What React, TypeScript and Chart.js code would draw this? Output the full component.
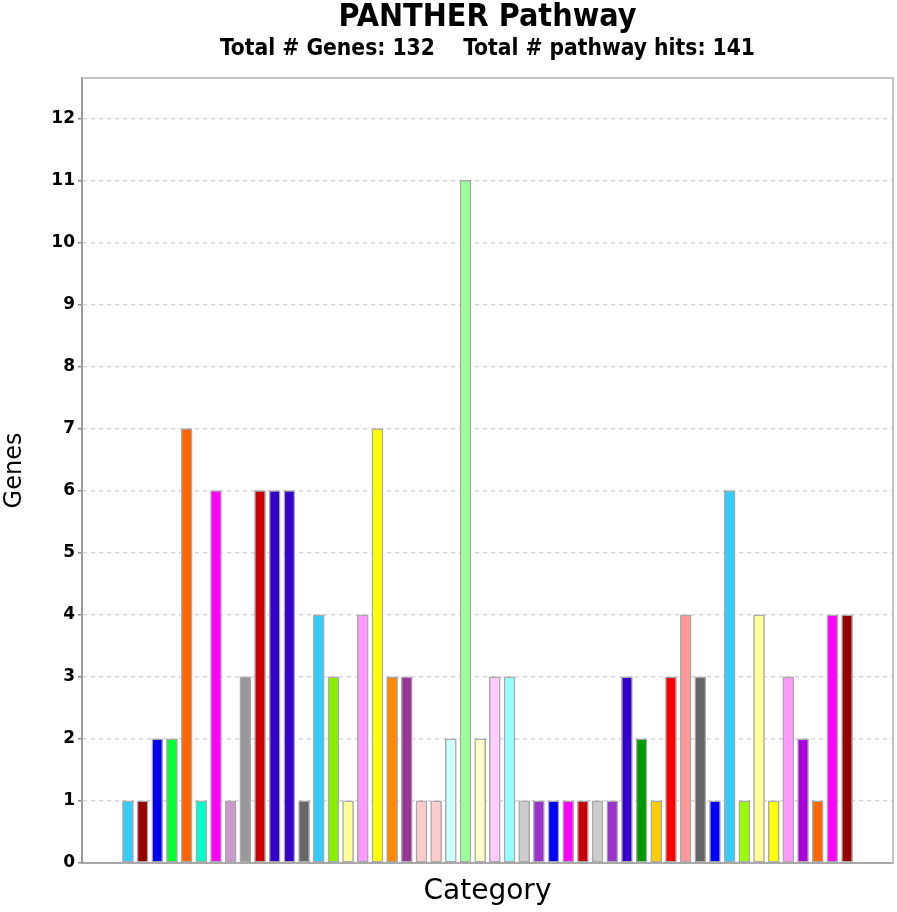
import React, { useEffect, useRef } from "react";
import { Chart, registerables } from "chart.js";

Chart.register(...registerables);

const chartTitle = "PANTHER Pathway";
const chartSubtitle = "Total # Genes: 132    Total # pathway hits: 141";
const yAxisTitle = "Genes";
const xAxisTitle = "Category";

// Gene counts per pathway category, left to right
const geneCounts = [
  1, 1, 2, 2, 7, 1, 6, 1, 3, 6,
  6, 6, 1, 4, 3, 1, 4, 7, 3, 3,
  1, 1, 2, 11, 2, 3, 3, 1, 1, 1,
  1, 1, 1, 1, 3, 2, 1, 3, 4, 3,
  1, 6, 1, 4, 1, 3, 2, 1, 4, 4,
];

const barColors = [
  "#33ccff", "#990000", "#0000ee", "#00ff33", "#ff6600", "#00ffcc", "#ff00ff", "#cc99cc", "#999999", "#cc0000",
  "#3300cc", "#3300cc", "#666666", "#33ccff", "#88ee00", "#ffff99", "#ff99ff", "#ffff00", "#ff8800", "#993399",
  "#ffcccc", "#ffcccc", "#ccffff", "#99ff99", "#ffffcc", "#ffccff", "#99ffff", "#cccccc", "#9933cc", "#0000ff",
  "#ff00ff", "#cc0000", "#cccccc", "#9933cc", "#3300cc", "#009900", "#ffcc00", "#ff0000", "#ff9999", "#666666",
  "#0000ff", "#33ccff", "#99ff00", "#ffff99", "#ffff00", "#ff99ff", "#aa00dd", "#ff6600", "#ff00ff", "#990000",
];

const categoryNumbers = geneCounts.map((_, i) => i + 1);

const Y_MIN = 0;
const Y_MAX = 12.65;
const X_MIN = -2.13;
const X_MAX = 53.13;

const framePlugin = {
  id: "plotFrame",
  beforeDatasetsDraw(chart: any) {
    const { ctx, chartArea } = chart;
    ctx.save();
    ctx.strokeStyle = "#c4c4c4";
    ctx.lineWidth = 2;
    ctx.beginPath();
    ctx.moveTo(chartArea.left, chartArea.top);
    ctx.lineTo(chartArea.right, chartArea.top);
    ctx.lineTo(chartArea.right, chartArea.bottom);
    ctx.stroke();
    ctx.restore();
  },
};

export default function App() {
  const canvasRef = useRef<HTMLCanvasElement | null>(null);

  useEffect(() => {
    if (!canvasRef.current) return;
    const chart = new Chart(canvasRef.current, {
      type: "bar",
      data: {
        datasets: [
          {
            data: categoryNumbers.map((c, i) => ({ x: c, y: geneCounts[i] })),
            backgroundColor: barColors,
            borderColor: "#a9a9a9",
            borderWidth: 1.5,
            borderSkipped: false,
            barThickness: 11,
          },
        ],
      },
      options: {
        responsive: false,
        animation: false,
        layout: { padding: { left: 0, right: 4, top: 0, bottom: 0 } },
        plugins: {
          legend: { display: false },
          tooltip: { enabled: false },
          title: {
            display: true,
            text: chartTitle,
            fullSize: false,
            color: "#000",
            font: { family: "'DejaVu Sans Condensed', 'DejaVu Sans'", size: 32, weight: "bold" },
            padding: { top: -2, bottom: 0 },
          },
          subtitle: {
            display: true,
            text: chartSubtitle,
            fullSize: false,
            color: "#000",
            font: { family: "'DejaVu Sans Condensed', 'DejaVu Sans'", size: 22.6, weight: "bold" },
            padding: { top: -1, bottom: 15.5 },
          },
        },
        scales: {
          x: {
            type: "linear",
            offset: false,
            bounds: "data",
            min: X_MIN,
            max: X_MAX,
            ticks: { display: false },
            grid: { display: false, offset: false },
            border: { display: true, color: "#a8a8a8", width: 2 },
            title: {
              display: true,
              text: xAxisTitle,
              color: "#000",
              font: { family: "'DejaVu Sans'", size: 28 },
              padding: { top: 0, bottom: 3 },
            },
            afterFit(scale: any) {
              scale.height = 49;
            },
          },
          y: {
            min: Y_MIN,
            max: Y_MAX,
            ticks: {
              stepSize: 1,
              includeBounds: false,
              color: "#000",
              padding: 3,
              font: { family: "'DejaVu Sans'", size: 17, weight: "bold" },
            },
            grid: {
              color: "#d6d6e2",
              lineWidth: 1.5,
              drawTicks: true,
              tickLength: 4,
              tickColor: "#8a8a8a",
              tickWidth: 1.5,
              tickBorderDash: [],
            },
            border: { display: true, color: "#9a9a9a", width: 2, dash: [4, 4] },
            title: {
              display: true,
              text: yAxisTitle,
              color: "#000",
              font: { family: "'DejaVu Sans'", size: 24 },
              padding: { top: 0, bottom: 0 },
            },
            afterFit(scale: any) {
              scale.width = 82;
            },
          },
        },
      },
      plugins: [framePlugin],
    });
    return () => chart.destroy();
  }, []);

  return (
    <div style={{ position: "absolute", left: 0, top: 0, width: 897, height: 912, background: "#fff" }}>
      <canvas ref={canvasRef} width={897} height={912} style={{ display: "block" }} />
    </div>
  );
}
